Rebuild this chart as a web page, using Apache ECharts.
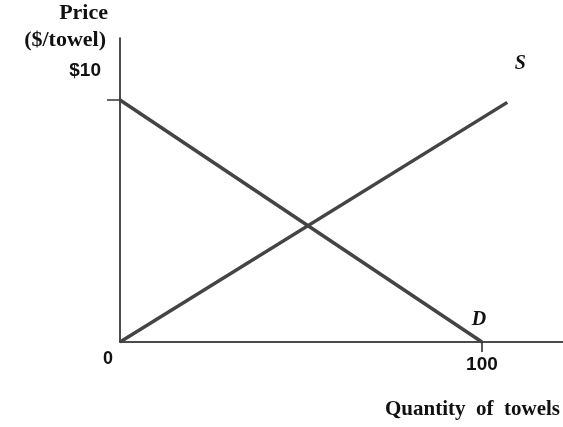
<!DOCTYPE html>
<html>
<head>
<meta charset="utf-8">
<script src="https://cdn.jsdelivr.net/npm/echarts@6/dist/echarts.min.js"></script>
<style>
  html, body { margin: 0; padding: 0; background: #fff; }
  #chart { width: 563px; height: 427px; }
</style>
</head>
<body>
<div id="chart"></div>
<script>
// 需求曲线 D 与供给曲线 S
const demandPoints = [[0, 10], [100, 0]];
const supplyPoints = [[0, 0], [107, 9.9]];
const xTicks = [100];
const yTicks = [10];

const chart = echarts.init(document.getElementById("chart"));
const serif = "'Liberation Serif', 'DejaVu Serif', serif";
const sans = "'Liberation Sans', Arial, sans-serif";

// 曲线名称标签
function curveLabel(text, coord, offset) {
  return {
    symbol: "circle",
    symbolSize: 1,
    itemStyle: { color: "rgba(0,0,0,0)" },
    data: [{ coord: coord }],
    label: {
      show: true,
      position: "inside",
      formatter: text,
      offset: offset,
      fontFamily: serif,
      fontStyle: "italic",
      fontWeight: "bold",
      fontSize: 20,
      color: "#111",
    },
  };
}

const option = {
  animation: false,
  grid: { left: 120, top: 38, right: 0, bottom: 85 },
  xAxis: {
    type: "value",
    min: 0,
    max: 122.4,
    axisLine: { lineStyle: { color: "#111", width: 1.5 } },
    splitLine: { show: false },
    axisTick: {
      show: true,
      customValues: xTicks,
      length: 10,
      lineStyle: { color: "#222", width: 1.5 },
    },
    axisLabel: {
      customValues: xTicks,
      margin: 13,
      fontFamily: sans,
      fontWeight: "bold",
      fontSize: 19,
      color: "#111",
    },
  },
  yAxis: {
    type: "value",
    min: 0,
    max: 12.56,
    axisLine: { show: true, lineStyle: { color: "#111", width: 1.5 } },
    splitLine: { show: false },
    axisTick: {
      show: true,
      customValues: yTicks,
      length: 13,
      lineStyle: { color: "#333", width: 1.5 },
    },
    axisLabel: { show: false },
  },
  series: [
    {
      name: "D",
      type: "line",
      data: demandPoints,
      symbol: "none",
      lineStyle: { color: "#444", width: 3.5 },
      markPoint: curveLabel("D", [100, 0], [-3, -22]),
    },
    {
      name: "S",
      type: "line",
      data: supplyPoints,
      symbol: "none",
      lineStyle: { color: "#444", width: 3.5 },
      markPoint: curveLabel("S", [107, 9.9], [13, -39]),
    },
  ],
  graphic: [
    {
      type: "text",
      right: 563 - 108,
      top: 2,
      style: { text: "Price", font: "bold 22px " + serif, fill: "#111", letterSpacing: 0.5 },
    },
    {
      type: "text",
      right: 563 - 106,
      top: 29,
      style: { text: "($/towel)", font: "bold 22px " + serif, fill: "#111", letterSpacing: 1.5 },
    },
    {
      type: "text",
      right: 563 - 101,
      top: 61,
      style: { text: "$10", font: "bold 19px " + sans, fill: "#111" },
    },
    {
      type: "text",
      left: 103,
      top: 350,
      style: { text: "0", font: "bold 18px " + sans, fill: "#111" },
    },
    {
      type: "text",
      right: 3,
      top: 399,
      style: { text: "Quantity  of  towels", font: "bold 21px " + serif, fill: "#111", letterSpacing: 0.7 },
    },
  ],
};

chart.setOption(option);
</script>
</body>
</html>
